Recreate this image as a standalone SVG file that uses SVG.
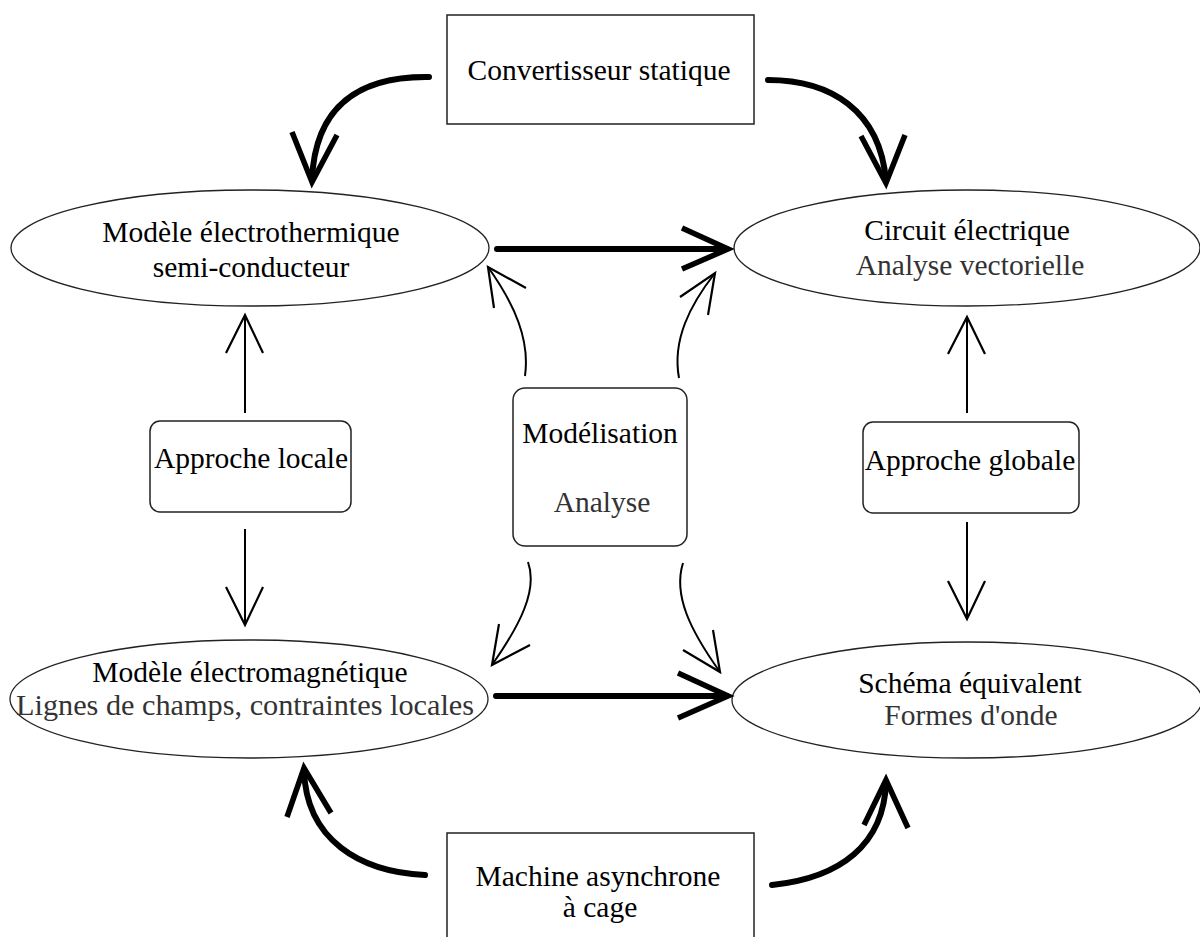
<svg xmlns="http://www.w3.org/2000/svg" width="1200" height="937" viewBox="0 0 1200 937">
<style>
.bg{fill:#fff}
.box{fill:none;stroke:#222;stroke-width:1.5}
.ell{fill:none;stroke:#222;stroke-width:1.3}
.t{font-family:"Liberation Serif","Times New Roman","DejaVu Serif",serif;font-size:29.5px;fill:#000;text-anchor:middle}
.t2{font-family:"Liberation Serif","Times New Roman","DejaVu Serif",serif;font-size:29.5px;fill:#333;text-anchor:middle}
.thick{fill:none;stroke:#000;stroke-width:6;stroke-linecap:round}
.thickh{fill:none;stroke:#000;stroke-width:5.5;stroke-linejoin:miter}
.thin{fill:none;stroke:#000;stroke-width:2}
.thinh{fill:none;stroke:#000;stroke-width:2.2}
</style>
<rect class="bg" x="0" y="0" width="1200" height="937"/>
<g id="convertisseur">
<rect class="box" x="447" y="15" width="307" height="109"/>
<text class="t" x="599" y="80">Convertisseur statique</text>
</g>
<g id="modele-electrothermique">
<ellipse class="ell" cx="250" cy="248" rx="239" ry="58"/>
<text class="t" x="251" y="242">Modèle électrothermique</text>
<text class="t" x="251" y="277">semi-conducteur</text>
</g>
<g id="circuit-electrique">
<ellipse class="ell" cx="967" cy="248" rx="233" ry="58"/>
<text class="t" x="967" y="240">Circuit électrique</text>
<text class="t2" x="970" y="275">Analyse vectorielle</text>
</g>
<g id="approche-locale">
<rect class="box" x="150" y="421" width="201" height="91" rx="10"/>
<text class="t" x="251" y="468">Approche locale</text>
</g>
<g id="modelisation">
<rect class="box" x="513" y="388" width="174" height="158" rx="12"/>
<text class="t" x="600" y="443">Modélisation</text>
<text class="t2" x="602" y="512">Analyse</text>
</g>
<g id="approche-globale">
<rect class="box" x="863" y="422" width="216" height="91" rx="10"/>
<text class="t" x="970" y="470">Approche globale</text>
</g>
<g id="modele-electromagnetique">
<ellipse class="ell" cx="249" cy="699" rx="239" ry="59"/>
<text class="t" x="250" y="682">Modèle électromagnétique</text>
<text class="t2" x="245" y="715" textLength="458" lengthAdjust="spacingAndGlyphs">Lignes de champs, contraintes locales</text>
</g>
<g id="schema-equivalent">
<ellipse class="ell" cx="967" cy="700" rx="235" ry="58"/>
<text class="t" x="970" y="693">Schéma équivalent</text>
<text class="t2" x="971" y="725">Formes d'onde</text>
</g>
<g id="machine">
<rect class="box" x="447" y="833" width="307" height="120"/>
<text class="t" x="598" y="886">Machine asynchrone</text>
<text class="t" x="600" y="917">à cage</text>
</g>
<g id="connectors">
<path class="thick" d="M429,77 C360,76 315,105 312,180"/>
<polyline class="thickh" points="292,132 312,182 337,135"/>
<path class="thick" d="M768,80 C830,80 880,110 886,181"/>
<polyline class="thickh" points="861,136 886,183 905,135"/>
<path class="thick" d="M425,875 C360,872 306,840 304,770"/>
<polyline class="thickh" points="287,817 304,768 331,813"/>
<path class="thick" d="M772,885 C840,878 884,845 886,782"/>
<polyline class="thickh" points="864,825 886,780 908,828"/>
<path class="thick" d="M497,249 L726,249"/>
<polyline class="thickh" points="682,228 728,249 682,269"/>
<path class="thick" d="M496,696 L726,696"/>
<polyline class="thickh" points="678,673 728,696 678,718"/>
<path class="thin" d="M245,413 L245,316"/>
<polyline class="thinh" points="226,353 245,315 263,353"/>
<path class="thin" d="M245,529 L245,624"/>
<polyline class="thinh" points="226,587 245,625 263,587"/>
<path class="thin" d="M967,413 L967,318"/>
<polyline class="thinh" points="948,354 967,317 985,354"/>
<path class="thin" d="M967,522 L967,618"/>
<polyline class="thinh" points="948,581 967,619 985,581"/>
<path class="thin" d="M525,376 C530,340 515,305 488,267"/>
<polyline class="thinh" points="526,288 488,267 494,308"/>
<path class="thin" d="M679,378 C672,340 690,305 715,273"/>
<polyline class="thinh" points="680,297 715,273 708,315"/>
<path class="thin" d="M528,562 C538,590 520,625 492,665"/>
<polyline class="thinh" points="499,624 492,665 530,645"/>
<path class="thin" d="M683,563 C673,595 690,630 720,672"/>
<polyline class="thinh" points="683,650 720,672 713,630"/>
</g>
</svg>
